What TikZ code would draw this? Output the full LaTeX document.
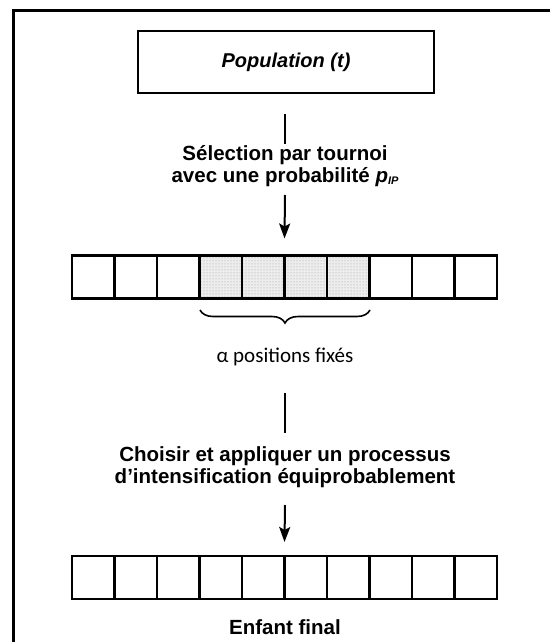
\documentclass[tikz,border=0pt]{standalone}
\usepackage{fontspec}
\setmainfont{Liberation Sans}
\newfontfamily\calfont{Carlito}
\usetikzlibrary{arrows.meta,decorations.pathreplacing,patterns}
\begin{document}
\begin{tikzpicture}[x=1pt,y=-1pt,
  cell/.style={draw,line width=2.4pt,minimum width=42.5pt,minimum height=43pt,inner sep=0pt,outer sep=0pt},
  shadedcell/.style={cell,fill=gray!14,postaction={pattern=dots,pattern color=gray!80}},
  conn/.style={line width=2pt},
  arr/.style={conn,-{Stealth[length=15pt,width=11pt,inset=3pt]}},
  lbl/.style={font=\fontsize{20.5}{22}\selectfont\bfseries,align=center,inner sep=0pt}]
\useasboundingbox (0,0) rectangle (550,642);
% outer frame (partly cropped)
\draw[line width=3pt] (13,642) -- (13,11) -- (550,11);
% population box
\node[draw,line width=2.4pt,minimum width=296pt,minimum height=62pt,inner sep=0pt,
  font=\fontsize{20}{22}\selectfont\bfseries\itshape] (pop) at (286,62) {Population (t)};
% first transition
\coordinate (t1) at (285,114);
\coordinate (t2) at (285,144);
\node[lbl] (sel) at (285,166) {Sélection par tournoi\\avec une probabilité {\itshape p\raisebox{-2.5pt}{\fontsize{11}{11}\selectfont IP}}};
\coordinate (t3) at (285,195);
\draw[conn] (t1) -- (t2);
% row 1
\foreach \i in {1,2,3,8,9,10} \node[cell] (a\i) at ({72+42.5*(\i-0.5)},277) {};
\foreach \i in {4,5,6,7} \node[shadedcell] (a\i) at ({72+42.5*(\i-0.5)},277) {};
\foreach \i in {4,5,6,7} \draw[line width=2.4pt] (a\i.north west) rectangle (a\i.south east);
\draw[arr] (t3) -- ([yshift=17pt]a5.north east);
% brace
\coordinate (b1) at (200,310);
\coordinate (b2) at (370,310);
\draw[line width=1.6pt,decorate,decoration={brace,mirror,amplitude=13pt}] (b1) -- (b2);
\node[font=\calfont\fontsize{21}{22}\selectfont,inner sep=0pt] (fix) at (285,357) {α positions fixés};
% second transition
\coordinate (u1) at (285,393);
\coordinate (u2) at (285,433);
\draw[conn] (u1) -- (u2);
\node[lbl] (cho) at (285,467.5) {Choisir et appliquer un processus\\d’intensification équiprobablement};
\coordinate (u3) at (285,505);
% row 2
\foreach \i in {1,...,10} \node[cell] (c\i) at ({72+42.5*(\i-0.5)},577.5) {};
\draw[arr] (u3) -- ([yshift=14pt]c5.north east);
\node[lbl] (enf) at (285,627) {Enfant final};
\end{tikzpicture}
\end{document}
